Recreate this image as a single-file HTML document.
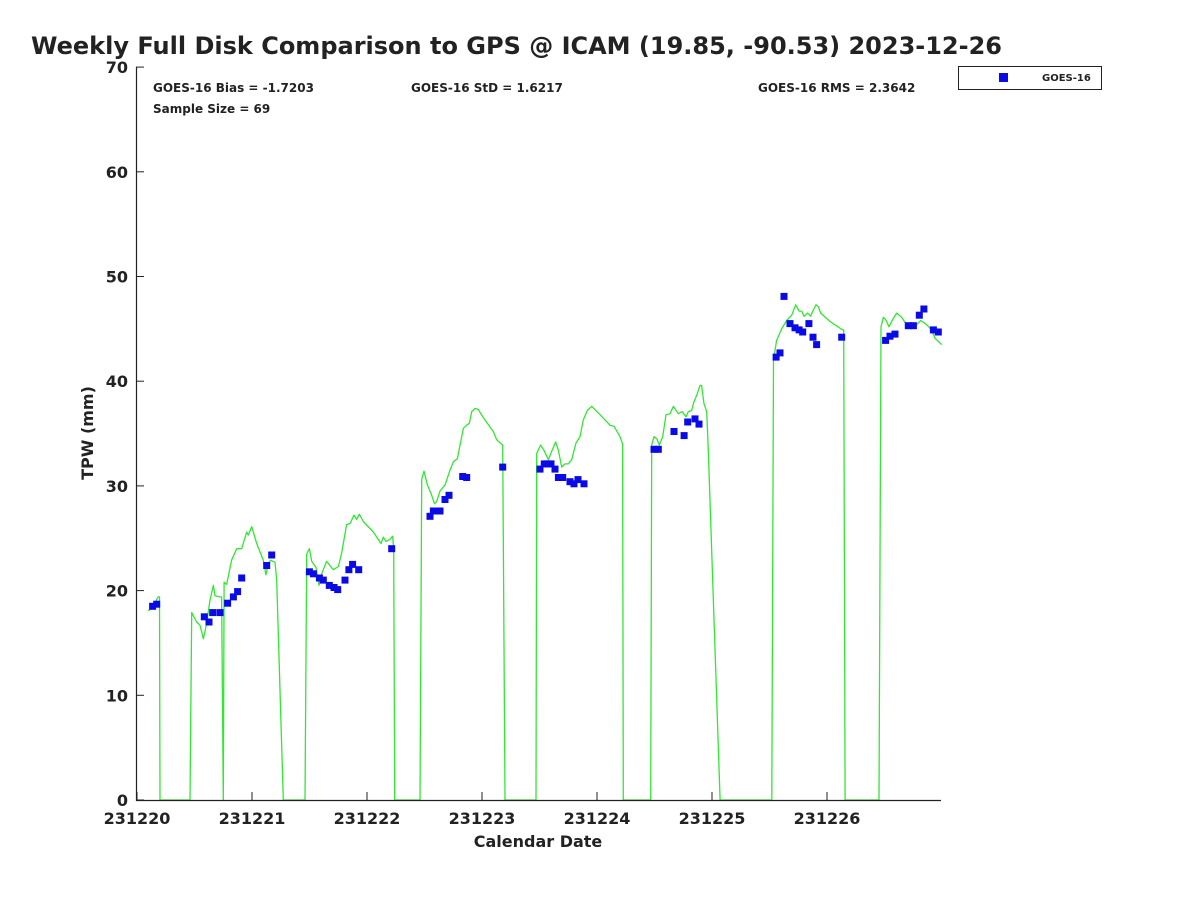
<!DOCTYPE html>
<html><head><meta charset="utf-8"><style>
body{margin:0;background:#fff}
svg text{font-family:"DejaVu Sans","Liberation Sans",sans-serif;font-weight:bold;fill:#222}
</style></head><body>
<svg width="1200" height="900" xmlns="http://www.w3.org/2000/svg">
<rect width="1200" height="900" fill="#fff"/>
<text x="31" y="54" font-size="24" fill="#000">Weekly Full Disk Comparison to GPS @ ICAM (19.85, -90.53) 2023-12-26</text>
<g id="plot"></g>
<text x="153" y="92" font-size="12">GOES-16 Bias = -1.7203</text>
<text x="153" y="113" font-size="12">Sample Size = 69</text>
<text x="411" y="92" font-size="12">GOES-16 StD = 1.6217</text>
<text x="758" y="92" font-size="12">GOES-16 RMS = 2.3642</text>
<g>
<rect x="958.5" y="66.5" width="143" height="23" fill="#fff" stroke="#222"/>
<rect x="999" y="73" width="9" height="9" fill="#0a0ae6"/>
<text x="1042" y="81" font-size="10">GOES-16</text>
</g>
<text x="538" y="847" font-size="16" text-anchor="middle">Calendar Date</text>
<text transform="translate(93,433) rotate(-90)" font-size="16" text-anchor="middle">TPW (mm)</text>
</svg>
<script>
const xTickLabels=["231220","231221","231222","231223","231224","231225","231226"];
const yTickLabels=[0,10,20,30,40,50,60,70];
const gpsT=[0.096,0.139,0.183,0.196,0.20,
0.461,0.476,0.519,0.548,0.577,0.606,0.635,0.664,0.678,0.722,0.736,0.750,0.757,0.780,0.823,0.867,0.910,0.954,0.968,0.997,1.041,1.098,1.122,1.142,1.163,1.2,1.215,1.272,
1.461,1.476,1.499,1.519,1.557,1.583,1.606,1.649,1.707,1.751,1.780,1.823,1.852,1.887,1.91,1.933,1.968,2.055,2.122,2.142,2.165,2.2,2.223,2.232,2.241,
2.461,2.476,2.496,2.525,2.563,2.586,2.606,2.635,2.678,2.722,2.751,2.786,2.809,2.838,2.867,2.89,2.91,2.939,2.968,3.012,3.098,3.128,3.18,3.2,
3.470,3.476,3.51,3.539,3.577,3.606,3.641,3.664,3.693,3.722,3.75,3.780,3.817,3.852,3.881,3.916,3.954,4.026,4.113,4.148,4.2,4.223,4.229,
4.467,4.476,4.496,4.52,4.542,4.571,4.6,4.635,4.664,4.707,4.74,4.774,4.794,4.823,4.843,4.872,4.896,4.910,4.93,4.954,4.968,5.07,
5.52,5.535,5.562,5.606,5.649,5.693,5.728,5.757,5.78,5.8,5.83,5.858,5.881,5.904,5.925,5.945,6.026,6.136,6.145,6.157,
6.452,6.47,6.490,6.515,6.539,6.571,6.606,6.649,6.693,6.751,6.815,6.867,6.91,6.939,6.997];
const gpsV=[18.1,18.3,19.4,19.4,0,
0,17.9,17.0,16.7,15.4,16.9,19.1,20.5,19.5,19.4,19.4,0,20.8,20.6,22.9,24.0,24.0,25.6,25.3,26.1,24.5,22.9,21.5,22.6,22.9,22.7,21.0,0,
0,23.5,24.0,22.8,22.2,20.5,21.6,22.8,22.0,22.3,23.6,26.3,26.4,27.2,26.8,27.3,26.6,25.6,24.5,25.1,24.7,24.9,25.2,24.0,0,
0,30.6,31.4,30.1,29.1,28.3,28.5,29.5,30.1,31.5,32.3,32.6,33.9,35.5,35.8,36.0,37.1,37.4,37.3,36.5,35.2,34.4,33.9,0,
0,33.1,33.9,33.4,32.5,33.3,34.2,33.4,31.8,32.1,32.1,32.5,34.1,34.7,36.3,37.2,37.6,36.8,35.8,35.7,34.7,34.0,0,
0,33.9,34.7,34.5,33.9,34.7,36.8,36.9,37.6,36.9,37.1,36.6,37.1,37.2,38.0,38.8,39.6,39.6,37.9,37.1,33.4,0,
0,42.0,43.9,45.0,45.8,46.3,47.3,46.7,46.7,46.2,46.5,46.2,46.8,47.3,47.1,46.5,45.7,44.9,44.9,0,
0,45.2,46.1,45.8,45.2,45.9,46.5,46.1,45.4,45.1,45.8,45.4,44.9,44.1,43.5];
const goesT=[0.136,0.171,0.585,0.626,0.658,0.722,0.788,0.838,0.875,0.910,1.128,1.171,1.499,1.534,1.586,1.620,1.672,1.713,1.745,1.809,1.843,1.875,1.928,2.215,2.548,2.577,2.606,2.635,2.678,2.713,2.832,2.867,3.180,3.504,3.542,3.571,3.6,3.635,3.664,3.702,3.765,3.8,3.835,3.887,4.496,4.533,4.670,4.757,4.789,4.852,4.887,5.557,5.591,5.626,5.678,5.722,5.757,5.789,5.843,5.878,5.910,6.128,6.510,6.548,6.591,6.707,6.751,6.803,6.843,6.925,6.968];
const goesV=[18.5,18.7,17.5,17.0,17.9,17.9,18.8,19.4,19.9,21.2,22.4,23.4,21.8,21.6,21.2,21.0,20.5,20.3,20.1,21.0,22.0,22.5,22.0,24.0,27.1,27.6,27.6,27.6,28.7,29.1,30.9,30.8,31.8,31.6,32.1,32.1,32.1,31.6,30.8,30.8,30.4,30.2,30.6,30.2,33.5,33.5,35.2,34.8,36.1,36.4,35.9,42.3,42.7,48.1,45.5,45.1,44.9,44.7,45.5,44.2,43.5,44.2,43.9,44.3,44.5,45.3,45.3,46.3,46.9,44.9,44.7];
const NS="http://www.w3.org/2000/svg";
const X0=137,DAY=115,Y0=800,YS=10.47;
function xs(t){return X0+t*DAY}
function ys(v){return Y0-v*YS}
const g=document.getElementById('plot');
function mk(tag,attrs){const e=document.createElementNS(NS,tag);for(const k in attrs)e.setAttribute(k,attrs[k]);g.appendChild(e);return e}
let d="";for(let i=0;i<gpsT.length;i++){d+=(i?"L":"M")+xs(gpsT[i]).toFixed(1)+","+ys(gpsV[i]).toFixed(1)}
const ln=mk('path',{d:d,fill:"none",stroke:"#33e633","stroke-width":"1.3","stroke-linejoin":"round"});


for(let i=0;i<goesT.length;i++){
const r=mk('rect',{x:(xs(goesT[i])-3.5).toFixed(1),y:(ys(goesV[i])-3.5).toFixed(1),width:7,height:7,fill:"#0a0ae6"});


}
const ax=mk('path',{d:"M136.5,67V800.5H941",fill:"none",stroke:"#222","stroke-width":"1.2"});


xTickLabels.forEach((lab,i)=>{
const x=xs(i);
const tk=mk('line',{x1:x,x2:x,y1:800,y2:792,stroke:"#222"});


const tx=mk('text',{x:x,y:824,"font-size":"16","text-anchor":"middle"});tx.textContent=lab;


});
yTickLabels.forEach(v=>{
const y=ys(v);
const tk=mk('line',{x1:136,x2:144,y1:y,y2:y,stroke:"#222"});


const tx=mk('text',{x:128,y:y+6,"font-size":"16","text-anchor":"end"});tx.textContent=v;


});
</script>
</body></html>
